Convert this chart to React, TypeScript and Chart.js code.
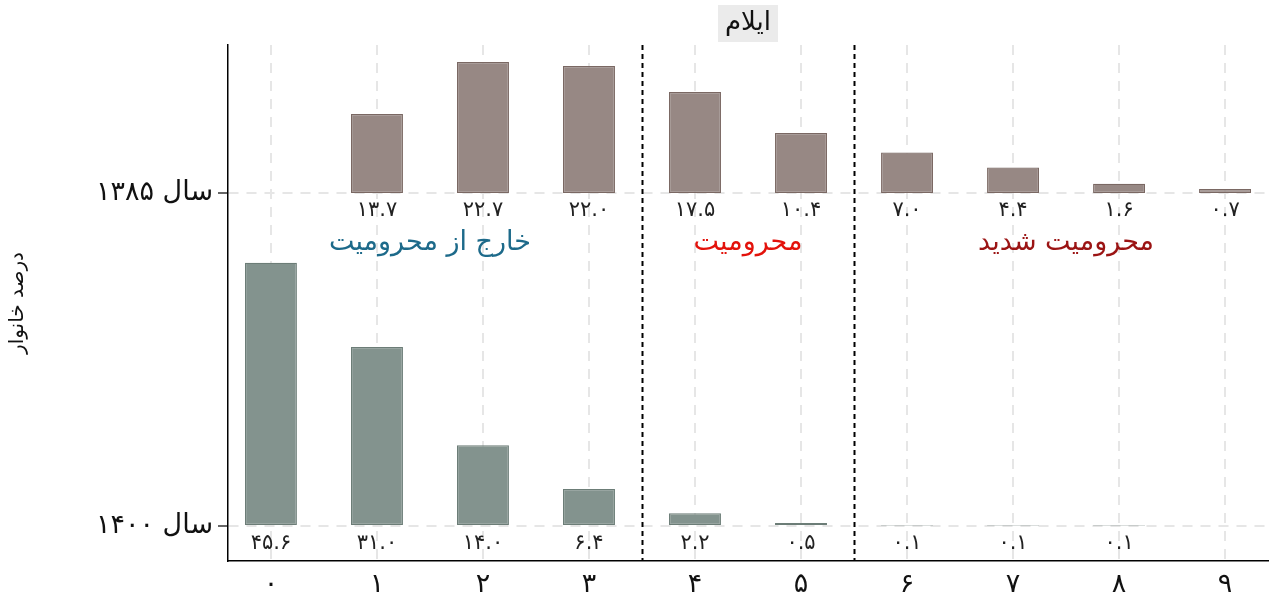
import React, { useEffect, useRef } from "react";
import { Chart, registerables } from "chart.js";

Chart.register(...registerables);

const categories = [0, 1, 2, 3, 4, 5, 6, 7, 8, 9];
const values1385: (number | null)[] = [null, 13.7, 22.7, 22.0, 17.5, 10.4, 7.0, 4.4, 1.6, 0.7];
const values1400: (number | null)[] = [45.6, 31.0, 14.0, 6.4, 2.2, 0.5, 0.1, 0.1, 0.1, null];
const rowLabels = ["سال ۱۴۰۰", "سال ۱۳۸۵"];
const rowBases = [0, 57.7];
const groupLabels = ["خارج از محرومیت", "محرومیت", "محرومیت شدید"];
const groupCenters = [1.5, 4.5, 7.5];
const groupColors = ["#1d6a8a", "#e3120b", "#9b1414"];
const separators = [3.5, 5.5];
const chartTitle = "ایلام";
const yTitle = "درصد خانوار";

const FONT = "'DejaVu Sans', sans-serif";
const toFa = (s: string) => s.replace(/[0-9]/g, (d) => "۰۱۲۳۴۵۶۷۸۹"[+d]);

const overlayPlugin = {
  id: "overlay",
  beforeDatasetsDraw(chart: any) {
    const { ctx, chartArea, scales } = chart;
    const x = scales.x;
    ctx.save();
    ctx.strokeStyle = "#000";
    ctx.lineWidth = 2;
    ctx.setLineDash([5, 4]);
    separators.forEach((s) => {
      const px = Math.round(x.getPixelForValue(s)) + 0.5;
      ctx.beginPath();
      ctx.moveTo(px, chartArea.top);
      ctx.lineTo(px, chartArea.bottom);
      ctx.stroke();
    });
    ctx.restore();
  },
  afterDatasetsDraw(chart: any) {
    const { ctx, chartArea, scales } = chart;
    const x = scales.x;
    const y = scales.y;
    ctx.save();
    ctx.textAlign = "center";
    ctx.textBaseline = "middle";
    ctx.fillStyle = "#222";
    ctx.font = `21px ${FONT}`;
    const rows = [values1400, values1385];
    rows.forEach((vals, r) => {
      const by = y.getPixelForValue(rowBases[r]);
      vals.forEach((v, i) => {
        if (v === null) return;
        ctx.fillText(toFa(v.toFixed(1)), x.getPixelForValue(categories[i]), by + 18);
      });
    });
    ctx.font = `27px ${FONT}`;
    groupLabels.forEach((g, i) => {
      ctx.fillStyle = groupColors[i];
      ctx.fillText(g, x.getPixelForValue(groupCenters[i]), y.getPixelForValue(49.0));
    });
    // title
    ctx.font = `26px ${FONT}`;
    const cx = (chartArea.left + chartArea.right) / 2;
    const w = ctx.measureText(chartTitle).width + 14;
    ctx.fillStyle = "#ebebeb";
    ctx.fillRect(cx - w / 2, 5, w, 37);
    ctx.fillStyle = "#111";
    ctx.fillText(chartTitle, cx, 23);
    ctx.restore();
  },
};

export default function App() {
  const ref = useRef<HTMLCanvasElement>(null);
  useEffect(() => {
    document.body.style.margin = "0";
    const toRange = (vals: (number | null)[], base: number) =>
      vals.map((v, i) => ({ x: categories[i], y: v === null ? null : [base, base + v] }));
    const chart = new Chart(ref.current!, {
      type: "bar",
      data: {
        datasets: [
          {
            label: rowLabels[1],
            data: toRange(values1385, rowBases[1]) as any,
            backgroundColor: "#978884",
            borderColor: "#7a6863",
            borderWidth: 1.2,
            borderSkipped: false,
            barPercentage: 0.49,
            categoryPercentage: 1,
            grouped: false,
          },
          {
            label: rowLabels[0],
            data: toRange(values1400, rowBases[0]) as any,
            backgroundColor: "#83938e",
            borderColor: "#6c7d77",
            borderWidth: 1.2,
            borderSkipped: false,
            barPercentage: 0.49,
            categoryPercentage: 1,
            grouped: false,
          },
        ],
      },
      options: {
        responsive: false,
        animation: false,
        layout: { padding: { top: 45, right: 1, left: 0, bottom: 0 } },
        plugins: { legend: { display: false }, tooltip: { enabled: false }, title: { display: false } },
        scales: {
          x: {
            type: "linear",
            offset: false,
            min: -0.405,
            max: 9.405,
            afterBuildTicks: (s: any) => {
              s.ticks = categories.map((c) => ({ value: c }));
            },
            afterFit: (s: any) => {
              s.height = 40;
            },
            ticks: {
              callback: (v: any) => toFa(String(v)),
              font: { family: FONT, size: 27 },
              color: "#111",
              padding: 8,
              autoSkip: false,
              maxRotation: 0,
            },
            grid: { offset: false, color: "#e6e6e6", lineWidth: 2, drawTicks: false },
            border: { display: true, color: "#000", width: 1.5, dash: [10, 8] },
          },
          y: {
            type: "linear",
            min: -6.07,
            max: 83.35,
            afterBuildTicks: (s: any) => {
              s.ticks = rowBases.map((b) => ({ value: b }));
            },
            afterFit: (s: any) => {
              s.width = 228;
            },
            ticks: {
              callback: (v: any) => {
                const i = rowBases.indexOf(Number(v));
                return i >= 0 ? rowLabels[i] : "";
              },
              font: { family: FONT, size: 27 },
              color: "#111",
              padding: 5,
            },
            grid: { color: "#e6e6e6", lineWidth: 2, tickLength: 10, tickColor: "#000", tickWidth: 1.2 },
            border: { display: true, color: "#000", width: 1.5, dash: [10, 8] },
            title: {
              display: true,
              text: yTitle,
              font: { family: FONT, size: 20 },
              color: "#111",
              padding: { top: 6, bottom: 0 },
            },
          },
        },
      },
      plugins: [overlayPlugin],
    } as any);
    return () => chart.destroy();
  }, []);
  return (
    <div style={{ width: 1269, height: 601 }}>
      <canvas ref={ref} width={1269} height={601} />
    </div>
  );
}
